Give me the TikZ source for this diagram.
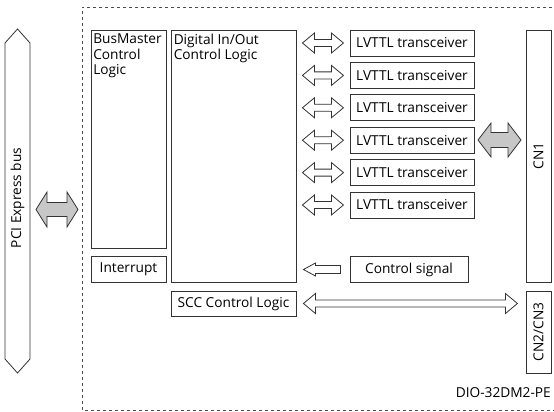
\documentclass[tikz,border=0pt]{standalone}
\usepackage{fontspec}
\setmainfont{Open Sans}
\usetikzlibrary{calc}

\tikzset{
  blk/.style={draw=black!80, line width=0.9pt, inner sep=0pt, font=\fontsize{13.7}{15.5}\selectfont},
  lbl/.style={inner sep=0pt, font=\fontsize{13.7}{15.5}\selectfont, align=left},
  arr/.style={draw=black!80, line width=0.8pt, fill=white},
  bigarr/.style={draw=black!80, line width=0.8pt, fill=black!22},
  % double arrow: length, half shaft, half head, head length
  pics/dblarr/.style n args={5}{code={
    \path[#5] (0,0) -- (#4,-#3) -- (#4,-#2) -- ({#1-#4},-#2) -- ({#1-#4},-#3)
      -- (#1,0) -- ({#1-#4},#3) -- ({#1-#4},#2) -- (#4,#2) -- (#4,#3) -- cycle;
  }},
  pics/leftarr/.style n args={4}{code={
    \path[arr] (0,0) -- (#4,-#3) -- (#4,-#2) -- (#1,-#2) -- (#1,#2) -- (#4,#2) -- (#4,#3) -- cycle;
  }}
}

\begin{document}
\begin{tikzpicture}[x=1pt, y=-1pt]
  \useasboundingbox (0,0) rectangle (554,412);

  % board outline
  \draw[black!70, dashed, line width=0.8pt] (570,7) -- (82,7) -- (82,410) -- (570,410);

  % PCI Express bus
  \draw[black!80, line width=0.8pt] (17.5,29) -- (30,43) -- (30,359) -- (17.5,373)
    -- (5,359) -- (5,43) -- cycle;
  \node[lbl, rotate=90] (pci) at (17.5,198) {PCI Express bus};
  \pic at (36,209.5) {dblarr={42}{7}{17.5}{11}{bigarr}};

  % logic blocks
  \node[blk, minimum width=75, minimum height=218] (bm) at (128.5,139) {};
  \node[lbl, anchor=north west] (bmtxt) at ($(bm.north west)+(2.5,4)$) {BusMaster\\Control\\Logic};
  \node[blk, minimum width=75, minimum height=26] (intr) at (128.5,269) {Interrupt};
  \node[blk, minimum width=125, minimum height=252] (dig) at (233.5,156) {};
  \node[lbl, anchor=north west] (digtxt) at ($(dig.north west)+(3,4)$) {Digital In/Out\\Control Logic};
  \node[blk, minimum width=125, minimum height=25] (scc) at (233.5,303.5) {SCC Control Logic};

  % transceivers
  \foreach \i in {1,...,6}{
    \node[blk, minimum width=124, minimum height=26] (t\i) at (412,{43+32.4*(\i-1)}) {LVTTL transceiver};
    \pic at ($(dig.east |- t\i.west)+(6,0)$) {dblarr={41}{3.5}{10}{12}{arr}};
  }

  % control signal
  \node[blk, minimum width=118, minimum height=26] (ctl) at (409,269.5) {Control signal};
  \pic at ($(dig.east |- ctl.west)+(7,0)$) {leftarr={37}{4}{6.5}{12}};

  % connectors
  \node[blk, minimum width=25, minimum height=252] (cn1) at (538.5,156) {};
  \node[lbl, rotate=90] (cn1txt) at (cn1.center) {CN1};
  \node[blk, minimum width=25, minimum height=82] (cn23) at (538.5,332) {};
  \node[lbl, rotate=90] (cn23txt) at (cn23.center) {CN2/CN3};
  \pic at (478,140) {dblarr={43}{7.5}{17}{13}{bigarr}};
  \pic at ($(scc.east)+(7,0)$) {dblarr={214}{3.5}{10}{12}{arr}};

  \node[lbl, anchor=east] (model) at (551,393) {DIO-32DM2-PE};
\end{tikzpicture}
\end{document}
